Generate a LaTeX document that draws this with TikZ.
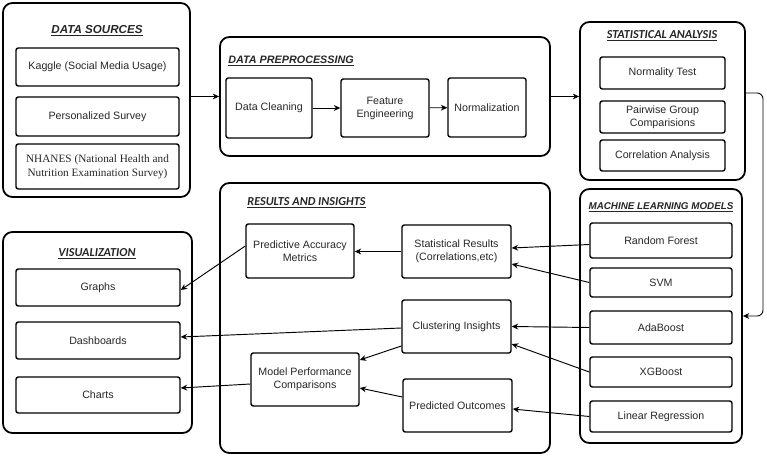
\documentclass[tikz,border=0pt]{standalone}
\usepackage{fontspec}
\setmainfont{Liberation Sans}
\newfontfamily\calibrifont{Carlito}
\newfontfamily\timesfont{Liberation Serif}
\usepackage{tikz}
\usetikzlibrary{
arrows.meta,
positioning,
calc
}

\begin{document}
\begin{tikzpicture}[
        x=0.03cm, y=-0.03cm,
        every node/.style={font=\fontsize{9.1}{11}\selectfont, align=center, text=black!85},
        group/.style={draw, line width=1.5pt, rounded corners=8pt, inner sep=0pt},
        item/.style={draw, line width=1.2pt, rounded corners=2pt, inner sep=2pt},
        heading/.style={font=\fontsize{9.2}{11}\selectfont\bfseries\itshape, inner sep=1pt},
        cheading/.style={font=\fontsize{10.4}{12}\calibrifont\bfseries\itshape, inner sep=1pt},
        flow/.style={-{Stealth[length=5.5pt,width=5pt]}, line width=0.8pt}
    ]
        \useasboundingbox (0,0) rectangle (767,456);

        \node[group, minimum width=5.61cm, minimum height=5.82cm] (sources) at (96.5,100) {};
        \node[heading, font=\fontsize{9.9}{12}\selectfont\bfseries\itshape] at (97,31) {\underline{DATA SOURCES}};
        \node[item, minimum width=4.89cm, minimum height=1.14cm] (kaggle) at (97.5,67) {Kaggle (Social Media Usage)};
        \node[item, minimum width=4.89cm, minimum height=1.17cm] (survey) at (97.5,116.5) {Personalized Survey};
        \node[item, minimum width=4.89cm, minimum height=1.35cm, font=\fontsize{9.6}{12}\timesfont] (nhanes) at (97.5,166.5) {NHANES (National Health and\\Nutrition Examination Survey)};

        \node[group, minimum width=9.9cm, minimum height=3.57cm] (prep) at (385,96.5) {};
        \node[heading, anchor=west] at (227,61) {\underline{DATA PREPROCESSING}};
        \node[item, minimum width=2.58cm, minimum height=1.8cm] (cleaning) at (269,108) {Data Cleaning};
        \node[item, minimum width=2.64cm, minimum height=1.74cm] (feature) at (385,108) {Feature\\Engineering};
        \node[item, minimum width=2.34cm, minimum height=1.77cm] (norm) at (487,107.5) {Normalization};

        \node[group, minimum width=4.95cm, minimum height=4.74cm] (stats) at (662.5,101) {};
        \node[cheading] at (662,36) {\underline{STATISTICAL ANALYSIS}};
        \node[item, minimum width=3.75cm, minimum height=0.96cm] (normality) at (662.5,73) {Normality Test};
        \node[item, minimum width=3.75cm, minimum height=0.96cm] (pairwise) at (662.5,117) {Pairwise Group\\Comparisions};
        \node[item, minimum width=3.75cm, minimum height=0.93cm] (correl) at (662.5,155.5) {Correlation Analysis};

        \node[group, minimum width=4.86cm, minimum height=7.62cm] (models) at (661,316) {};
        \node[heading, font=\fontsize{8.4}{10}\selectfont\bfseries\itshape] at (661,207) {\underline{MACHINE LEARNING MODELS}};
        \node[item, minimum width=4.26cm, minimum height=1.05cm] (rf) at (661,240.5) {Random Forest};
        \node[item, minimum width=4.26cm, minimum height=0.87cm] (svm) at (661,282.5) {SVM};
        \node[item, minimum width=4.26cm, minimum height=0.99cm] (ada) at (661,327.5) {AdaBoost};
        \node[item, minimum width=4.26cm, minimum height=0.9cm] (xgb) at (661,372) {XGBoost};
        \node[item, minimum width=4.26cm, minimum height=0.93cm] (linreg) at (661,416.5) {Linear Regression};

        \node[group, minimum width=9.9cm, minimum height=8.1cm] (results) at (385,318) {};
        \node[cheading, anchor=west] at (246,203) {\underline{RESULTS AND INSIGHTS}};
        \node[item, minimum width=3.24cm, minimum height=1.62cm] (accuracy) at (300,251) {Predictive Accuracy\\Metrics};
        \node[item, minimum width=3.27cm, minimum height=1.59cm] (statres) at (456.5,251.5) {Statistical Results\\(Correlations,etc)};
        \node[item, minimum width=3.27cm, minimum height=1.59cm] (cluster) at (456.5,326.5) {Clustering Insights};
        \node[item, minimum width=3.24cm, minimum height=1.59cm] (perf) at (305,379.5) {Model Performance\\Comparisons};
        \node[item, minimum width=3.27cm, minimum height=1.59cm] (predicted) at (457.5,405.5) {Predicted Outcomes};

        \node[group, minimum width=5.67cm, minimum height=6.03cm] (visual) at (97.5,332.5) {};
        \node[cheading] at (97,254) {\underline{VISUALIZATION}};
        \node[item, minimum width=4.92cm, minimum height=1.11cm] (graphs) at (98,287.5) {Graphs};
        \node[item, minimum width=4.92cm, minimum height=1.11cm] (dash) at (98,340.5) {Dashboards};
        \node[item, minimum width=4.92cm, minimum height=1.08cm] (charts) at (98,395) {Charts};

        \coordinate (bend) at (763,316);

        \draw[flow] (prep.west -| sources.east) -- (prep.west);
        \draw[flow] (prep.east) -- (prep.east -| stats.west);
        \draw[flow] (cleaning) -- (feature);
        \draw[flow] (feature) -- (norm);
        \draw[flow, rounded corners=5pt] ($(stats.east)+(0,-8)$) -| (bend) -- (models.east);

        \draw[flow] ($(rf.west)+(0,4)$) -- ($(statres.east)+(0,-3.5)$);
        \draw[flow] (svm.west) -- ($(statres.east)+(0,12.5)$);
        \draw[flow] (ada.west) -- (cluster.east);
        \draw[flow] (xgb.west) -- ($(cluster.east)+(0,17.5)$);
        \draw[flow] (linreg.west) -- ($(predicted.east)+(0,3.5)$);

        \draw[flow] (statres.west) -- (statres.west -| accuracy.east);
        \draw[flow] ($(cluster.west)+(0,19.5)$) -- ($(perf.east)+(0,-19.5)$);
        \draw[flow] ($(predicted.west)+(0,-8.5)$) -- ($(perf.east)+(0,8.5)$);

        \draw[flow] ($(accuracy.west)+(0,-5)$) -- ($(graphs.east)+(0,2.5)$);
        \draw[flow] ($(cluster.west)+(0,1.5)$) -- ($(dash.east)+(0,-3.5)$);
        \draw[flow] ($(perf.west)+(0,4.5)$) -- ($(charts.east)+(0,-7)$);
    \end{tikzpicture}
\end{document}
